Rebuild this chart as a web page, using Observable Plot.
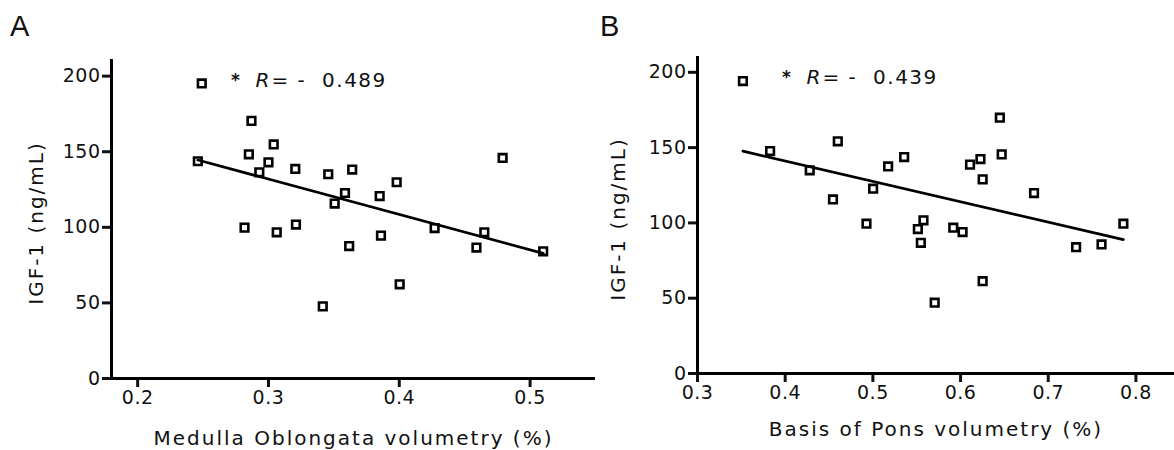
<!DOCTYPE html>
<html>
<head>
<meta charset="utf-8">
<script src="https://cdn.jsdelivr.net/npm/d3@7"></script>
<script src="https://cdn.jsdelivr.net/npm/@observablehq/plot@0.6"></script>
<style>
  html, body { margin: 0; padding: 0; background: #fff; }
  #wrap { position: relative; width: 1174px; height: 450px; overflow: hidden; }
  #wrap svg { position: absolute; top: 0; overflow: visible; }
  .panel-letter { position: absolute; font-family: "Liberation Sans", Arial, sans-serif; font-size: 29px; color: #111; line-height: 1; }
</style>
</head>
<body>
<div id="wrap">
  <div class="panel-letter" style="left:10px; top:12px;">A</div>
  <div class="panel-letter" style="left:600px; top:12px;">B</div>
</div>
<script>
// Panel A: Medulla Oblongata volumetry (%) vs IGF-1 (ng/mL)
const medullaX = [0.249, 0.287, 0.304, 0.285, 0.246, 0.300, 0.293, 0.3205, 0.3457, 0.364, 0.3585, 0.3506, 0.385, 0.398, 0.479, 0.2817, 0.3063, 0.321, 0.3617, 0.386, 0.427, 0.465, 0.459, 0.510, 0.4003, 0.3415];
const medullaIGF = [195.2, 170.4, 154.8, 148.3, 143.7, 143.0, 136.4, 138.6, 135.1, 138.2, 122.7, 115.7, 120.7, 129.8, 145.9, 99.8, 96.7, 101.8, 87.6, 94.5, 99.5, 96.7, 86.6, 84.1, 62.3, 47.7];

// Panel B: Basis of Pons volumetry (%) vs IGF-1 (ng/mL)
const ponsX = [0.3518, 0.3828, 0.460, 0.428, 0.4545, 0.4927, 0.5003, 0.5174, 0.5357, 0.5577, 0.5513, 0.5547, 0.5705, 0.5917, 0.6023, 0.6108, 0.6227, 0.6252, 0.6252, 0.6448, 0.6469, 0.6838, 0.7318, 0.7608, 0.7857];
const ponsIGF = [194.2, 147.7, 154.2, 134.9, 115.6, 99.5, 122.7, 137.5, 143.7, 101.7, 95.9, 86.8, 47.0, 96.8, 93.9, 138.7, 142.4, 128.9, 61.3, 169.9, 145.5, 119.8, 83.9, 85.7, 99.5];

const xTicksA = [0.2, 0.3, 0.4, 0.5];
const xTicksB = [0.3, 0.4, 0.5, 0.6, 0.7, 0.8];
const yTicks = [0, 50, 100, 150, 200];

const yLabel = "IGF-1 (ng/mL)";
const xLabelA = "Medulla Oblongata volumetry (%)";
const xLabelB = "Basis of Pons volumetry (%)";
const rA = "= -  0.489";
const rB = "= -  0.439";

const dataA = medullaX.map((x, i) => ({x, y: medullaIGF[i]}));
const dataB = ponsX.map((x, i) => ({x, y: ponsIGF[i]}));

function panel({data, xDomain, yDomain, xTicks, xLabel, rText, width, marginLeft, marginRight, marginTop, marginBottom, yLabelDx, yLabelDy, xLabelDy, rDx}) {
  const svg = Plot.plot({
    width, height: 450,
    marginLeft, marginRight, marginTop, marginBottom,
    style: {fontFamily: "'DejaVu Sans', Verdana, sans-serif", fontSize: "19px", color: "#111", background: "transparent", overflow: "visible"},
    x: {domain: xDomain, axis: null},
    y: {domain: yDomain, axis: null},
    marks: [
      Plot.axisX({ticks: xTicks, tickSize: 9, tickPadding: 3, strokeWidth: 3, label: null, tickFormat: d3.format(".1f")}),
      Plot.axisY({ticks: yTicks, tickSize: 9, tickPadding: 2, strokeWidth: 3, label: null}),
      Plot.ruleX([xDomain[0]], {strokeWidth: 3, stroke: "#000"}),
      Plot.ruleY([0], {strokeWidth: 3, stroke: "#000"}),
      Plot.linearRegressionY(data, {x: "x", y: "y", ci: 0, stroke: "#000", strokeWidth: 2.7}),
      Plot.dot(data, {x: "x", y: "y", symbol: "square", r: 4.3, stroke: "#000", strokeWidth: 2.6, fill: "none"}),
      Plot.text([yLabel], {text: d => d, frameAnchor: "left", rotate: -90, dx: yLabelDx, dy: yLabelDy, textAnchor: "middle", lineAnchor: "middle", fontSize: 20}),
      Plot.text([xLabel], {text: d => d, frameAnchor: "bottom", dy: xLabelDy, textAnchor: "middle", lineAnchor: "middle", fontSize: 20}),
      Plot.text(["*"], {text: d => d, frameAnchor: "top-left", dx: rDx - 20, dy: 21, textAnchor: "middle", lineAnchor: "middle", fontSize: 17, fontWeight: "bold"}),
      Plot.text(["R"], {text: d => d, frameAnchor: "top-left", dx: rDx, dy: 21, textAnchor: "start", lineAnchor: "middle", fontSize: 20, fontStyle: "italic"}),
      Plot.text([rText], {text: d => d, frameAnchor: "top-left", dx: rDx + 16, dy: 21, textAnchor: "start", lineAnchor: "middle", fontSize: 20})
    ]
  });
  const titles = new Set([yLabel, xLabelA, xLabelB]);
  d3.select(svg).selectAll("text").each(function() {
    const t = this.textContent;
    const parentLabel = (this.parentNode && this.parentNode.getAttribute("aria-label")) || "";
    if (titles.has(t)) {
      d3.select(this).style("letter-spacing", "2px");
    } else if (t === rA || t === rB) {
      d3.select(this).style("letter-spacing", "1.5px");
    } else if (parentLabel.indexOf("tick label") >= 0) {
      d3.select(this).style("letter-spacing", "0.5px").style("font-size", "19px");
    }
  });
  return svg;
}

const wrap = document.getElementById("wrap");

const plotA = panel({
  data: dataA, xDomain: [0.18, 0.55], yDomain: [0, 211], xTicks: xTicksA, xLabel: xLabelA, rText: rA,
  width: 600, marginLeft: 111, marginRight: 5, marginTop: 59, marginBottom: 72,
  yLabelDx: -75, yLabelDy: 4, xLabelDy: 60, rDx: 144
});
plotA.style.left = "0px";
wrap.appendChild(plotA);

const plotB = panel({
  data: dataB, xDomain: [0.3, 0.844], yDomain: [0, 210.5], xTicks: xTicksB, xLabel: xLabelB, rText: rB,
  width: 574, marginLeft: 97, marginRight: 0, marginTop: 56, marginBottom: 77,
  yLabelDx: -79, yLabelDy: 4, xLabelDy: 56, rDx: 109
});
plotB.style.left = "600px";
wrap.appendChild(plotB);
</script>
</body>
</html>
